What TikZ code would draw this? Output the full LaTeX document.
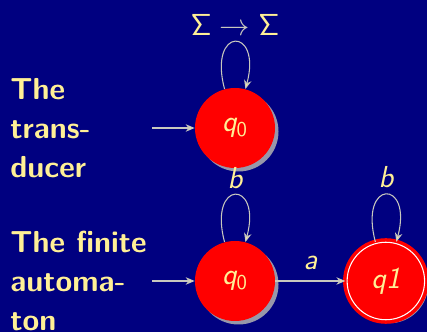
\documentclass[tikz,border=0pt]{standalone}
\usepackage{tikz}
\usetikzlibrary{shapes, arrows.meta, positioning, calc, shadows}
\usepackage{xcolor}
\definecolor{slidebg}{RGB}{0, 0, 128}
\definecolor{slideyellow}{RGB}{255, 240, 150}
\definecolor{edgegray}{RGB}{200, 200, 190}

\begin{document}
\begin{tikzpicture}[
    state/.style={circle, fill=red, minimum size=1.6cm, inner sep=0pt,
          text=slideyellow, font=\LARGE\sffamily,
          drop shadow={shadow xshift=0.07cm, shadow yshift=-0.07cm,
                       fill=gray!60!white, opacity=0.85}},
    accept/.style={state, draw=red, line width=2pt, double=white,
          double distance=0.6pt, minimum size=1.55cm},
    arr/.style={-{Stealth[length=1.8mm, width=1.5mm, fill=slideyellow]},
          draw=edgegray, line width=0.6pt},
    lbl/.style={font=\LARGE\sffamily\itshape, text=slideyellow},
    side/.style={font=\LARGE\bfseries\sffamily, text=slideyellow,
          align=left, anchor=west, inner sep=0pt}
  ]
    \path[use as bounding box, fill=slidebg] (0,0) rectangle (8.54,6.64);

    % the transducer
    \node[state] (t0) at (4.70,4.08) {{\itshape q}\textsubscript{0}};
    \coordinate (t0in) at (3.04,4.08);
    \node[side] (tlab) at (0.2,4.08) {The\\trans-\\ducer};

    % the finite automaton
    \node[state] (f0) at (4.70,1.02) {{\itshape q}\textsubscript{0}};
    \node[accept, right=1.4cm of f0] (f1) {\itshape q1};
    \coordinate (f0in) at (3.04,1.02);
    \node[side] (flab) at (0.2,1.02) {The finite\\automa-\\ton};

    \draw[arr] (t0in) -- (t0);
    \draw[arr] (t0) to[loop above]
      node[above, text=slideyellow, font=\LARGE]
      {$\mathsf{\Sigma}\mathrel{\textcolor{edgegray}{\rightarrow}}\mathsf{\Sigma}$} (t0);

    \draw[arr] (f0in) -- (f0);
    \draw[arr] (f0) to[loop above] node[above, lbl]{b} (f0);
    \draw[arr] (f0) -- node[above=3pt, lbl]{a} (f1);
    \draw[arr] (f1) to[loop above] node[above, lbl]{b} (f1);
  \end{tikzpicture}
\end{document}
